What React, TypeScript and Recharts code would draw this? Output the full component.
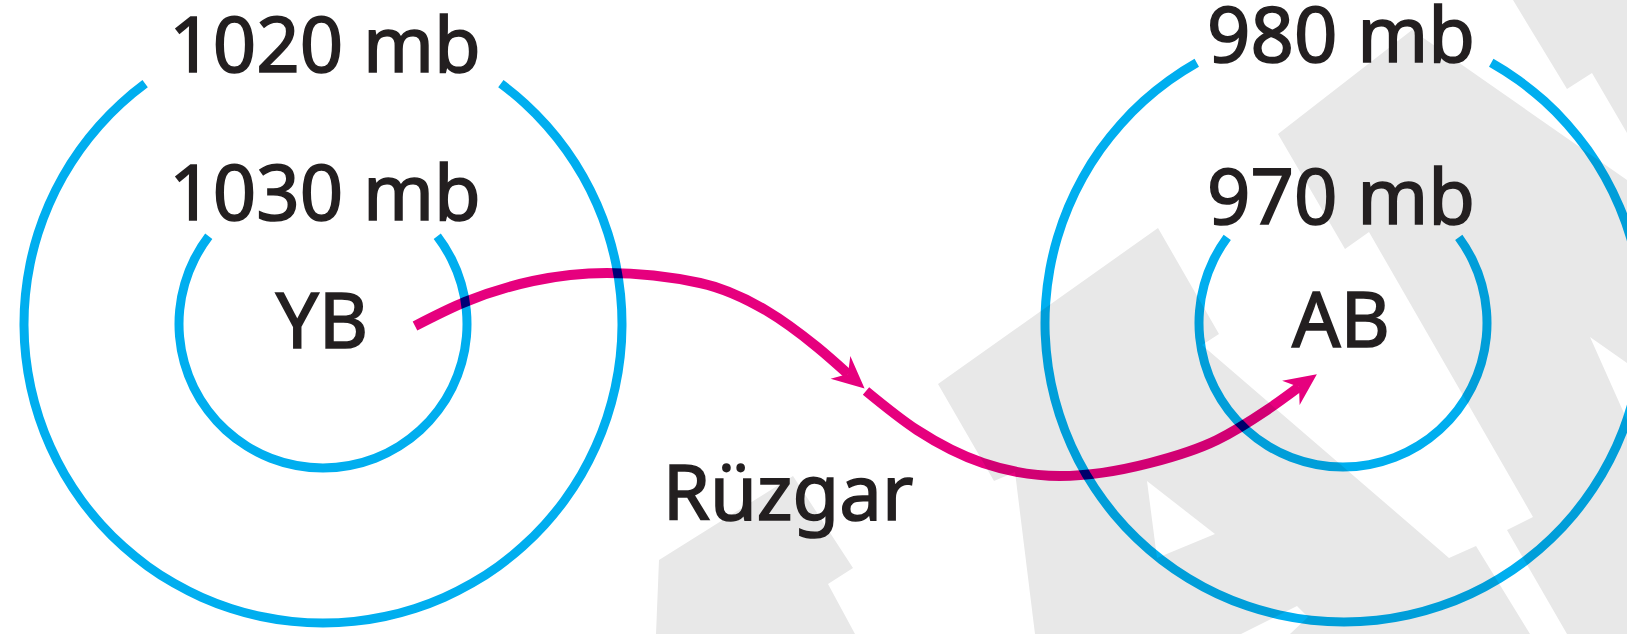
import { Area, ComposedChart, Line, Pie, PieChart, Scatter, XAxis, YAxis } from "recharts";

const W = 1627;
const H = 634;

type Pt = { x: number; y: number };
type Label = { x: number; y: number; text: string };

const BLUE = "#00aeef";
const PINK = "#e6007e";
const GRAY = "#e8e8e8";
const INK = "#231f20";

// decorative grey background pieces (page coordinates, y grows downward)
const shapeLeft: Pt[] = [
  { x: 656, y: 634 }, { x: 659, y: 560 }, { x: 793, y: 476 },
  { x: 853, y: 568 }, { x: 828, y: 584 }, { x: 855, y: 634 },
];
const shapeMiddle: Pt[] = [
  { x: 1035, y: 634 }, { x: 1015, y: 472 }, { x: 994, y: 481 }, { x: 938, y: 384 },
  { x: 1158, y: 228 }, { x: 1219, y: 334 }, { x: 1202, y: 345 }, { x: 1449, y: 558 },
  { x: 1476, y: 546 }, { x: 1530, y: 634 },
];
const shapeRight: Pt[] = [
  { x: 1567, y: 634 }, { x: 1507, y: 530 }, { x: 1533, y: 517 }, { x: 1369, y: 232 },
  { x: 1345, y: 249 }, { x: 1278, y: 134 }, { x: 1412, y: 30 }, { x: 1627, y: 180 },
  { x: 1627, y: 363 }, { x: 1590, y: 337 }, { x: 1627, y: 420 }, { x: 1627, y: 634 },
];
const shapeCorner: Pt[] = [
  { x: 1513, y: 0 }, { x: 1567, y: 89 }, { x: 1592, y: 73 }, { x: 1627, y: 133 }, { x: 1627, y: 0 },
];
const cutTriangle: Pt[] = [
  { x: 1157, y: 558 }, { x: 1147, y: 481 }, { x: 1215, y: 534 },
];
const cutBottom: Pt[] = [
  { x: 1241, y: 634 }, { x: 1297, y: 606 }, { x: 1308, y: 617 }, { x: 1290, y: 634 },
];

// wind arrow, two strokes
const windFirst: Pt[] = [
  { x: 415, y: 326 }, { x: 465, y: 302 }, { x: 533, y: 281 }, { x: 607, y: 273 },
  { x: 700, y: 283 }, { x: 767, y: 311 }, { x: 817, y: 347 }, { x: 848, y: 374 },
];
const windSecond: Pt[] = [
  { x: 866, y: 391 }, { x: 917, y: 430 }, { x: 983, y: 463 }, { x: 1060, y: 476 },
  { x: 1150, y: 463 }, { x: 1217, y: 440 }, { x: 1267, y: 410 }, { x: 1299, y: 387 },
];

const labels: Label[] = [
  { x: 325, y: 72, text: "1020 mb" },
  { x: 325, y: 220, text: "1030 mb" },
  { x: 322, y: 348, text: "YB" },
  { x: 1341, y: 62, text: "980 mb" },
  { x: 1341, y: 224, text: "970 mb" },
  { x: 1341, y: 347, text: "AB" },
  { x: 788, y: 520, text: "Rüzgar" },
];

// isobar rings: centre, radius and the opening (degrees) left for the label
const rings = [
  { cx: 323, cy: 324, r: 299, gap: 73 },
  { cx: 323, cy: 324, r: 144, gap: 105 },
  { cx: 1344, cy: 323, r: 299, gap: 59 },
  { cx: 1343, cy: 323, r: 144, gap: 107 },
];

const closed = (pts: Pt[]) => [...pts, pts[0]];

function arrowHead(series: Pt[]) {
  const n = series.length;
  const a = Math.atan2(series[n - 1].y - series[n - 2].y, series[n - 1].x - series[n - 2].x);
  const ux = Math.cos(a);
  const uy = Math.sin(a);
  return (p: any) => {
    if (p.index !== n - 1) return <g key={`d${p.index}`} />;
    const { cx, cy } = p;
    const tip = `${cx + ux * 22},${cy + uy * 22}`;
    const b1 = `${cx - ux * 10 - uy * 15},${cy - uy * 10 + ux * 15}`;
    const b2 = `${cx - ux * 10 + uy * 15},${cy - uy * 10 - ux * 15}`;
    return <polygon key="head" points={`${tip} ${b1} ${cx},${cy} ${b2}`} fill={PINK} />;
  };
}

const renderLabel = (p: any) => (
  <text
    x={p.cx}
    y={p.cy}
    textAnchor="middle"
    fontFamily="'Noto Sans', sans-serif"
    fontSize={76}
    fill={INK}
    stroke={INK}
    strokeWidth={1.6}
  >
    {p.payload.text}
  </text>
);

const layer: React.CSSProperties = { position: "absolute", left: 0, top: 0 };

function Axes() {
  return [
    <XAxis key="x" type="number" dataKey="x" domain={[0, W]} hide allowDataOverflow />,
    <YAxis key="y" type="number" dataKey="y" domain={[0, H]} reversed hide allowDataOverflow />,
  ];
}

export default function App() {
  const margin = { top: 0, right: 0, bottom: 0, left: 0 };
  return (
    <div style={{ position: "fixed", left: 0, top: 0, width: W, height: H, background: "#fff", overflow: "hidden" }}>
      <div style={layer}>
        <ComposedChart width={W} height={H} margin={margin}>
          {Axes()}
          {[shapeLeft, shapeMiddle, shapeRight, shapeCorner].map((s, i) => (
            <Area key={`g${i}`} data={closed(s)} dataKey="y" type="linear" stroke="none" fill={GRAY}
              fillOpacity={1} baseValue={H} dot={false} activeDot={false} isAnimationActive={false} />
          ))}
          {[cutTriangle, cutBottom].map((s, i) => (
            <Area key={`w${i}`} data={closed(s)} dataKey="y" type="linear" stroke="none" fill="#fff"
              fillOpacity={1} baseValue={H} dot={false} activeDot={false} isAnimationActive={false} />
          ))}
        </ComposedChart>
      </div>
      <div style={{ ...layer, mixBlendMode: "multiply" }}>
        <PieChart width={W} height={H} margin={margin}>
          {rings.map((g, i) => (
            <Pie
              key={`r${i}`}
              data={[{ value: 1 }]}
              dataKey="value"
              cx={g.cx}
              cy={g.cy}
              innerRadius={g.r - 4.5}
              outerRadius={g.r + 4.5}
              startAngle={90 - g.gap / 2}
              endAngle={90 + g.gap / 2 - 360}
              fill={BLUE}
              stroke="none"
              isAnimationActive={false}
            />
          ))}
        </PieChart>
      </div>
      <div style={{ ...layer, mixBlendMode: "multiply" }}>
        <ComposedChart width={W} height={H} margin={margin}>
          {Axes()}
          <Line data={windFirst} dataKey="y" type="monotone" stroke={PINK} strokeWidth={10}
            dot={arrowHead(windFirst)} activeDot={false} isAnimationActive={false} />
          <Line data={windSecond} dataKey="y" type="monotone" stroke={PINK} strokeWidth={10}
            dot={arrowHead(windSecond)} activeDot={false} isAnimationActive={false} />
        </ComposedChart>
      </div>
      <div style={layer}>
        <ComposedChart width={W} height={H} margin={margin}>
          {Axes()}
          <Scatter data={labels} dataKey="y" shape={renderLabel} isAnimationActive={false} />
        </ComposedChart>
      </div>
    </div>
  );
}
